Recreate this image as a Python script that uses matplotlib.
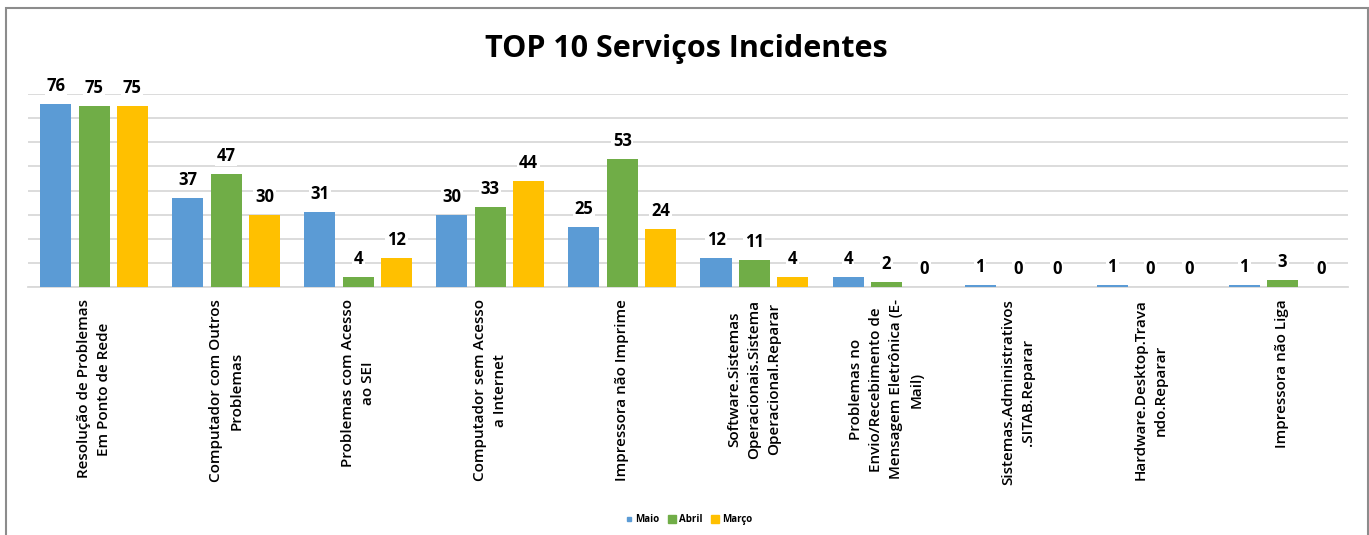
import matplotlib
matplotlib.use('Agg')
import matplotlib.pyplot as plt
import numpy as np
from matplotlib.lines import Line2D
from matplotlib.patches import Rectangle

plt.rcParams['font.family'] = ['Open Sans', 'DejaVu Sans']

categorias = ['Resolução de Problemas\nEm Ponto de Rede',
              'Computador com Outros\nProblemas',
              'Problemas com Acesso\nao SEI',
              'Computador sem Acesso\na Internet',
              'Impressora não Imprime',
              'Software.Sistemas\nOperacionais.Sistema\nOperacional.Reparar',
              'Problemas no\nEnvio/Recebimento de\nMensagem Eletrônica (E-\nMail)',
              'Sistemas.Administrativos\n.SITAB.Reparar',
              'Hardware.Desktop.Trava\nndo.Reparar',
              'Impressora não Liga']

maio = [76, 37, 31, 30, 25, 12, 4, 1, 1, 1]
abril = [75, 47, 4, 33, 53, 11, 2, 0, 0, 3]
marco = [75, 30, 12, 44, 24, 4, 0, 0, 0, 0]

series = [('Maio', maio, '#5B9BD5'),
          ('Abril', abril, '#70AD47'),
          ('Março', marco, '#FFC000')]

fig = plt.figure(figsize=(13.69, 5.35), dpi=100)
ax = fig.add_axes([0.0205, 0.4636, 0.9645, 0.3604])

x = np.arange(len(categorias))
step = 0.29
width = 0.235

for i, (nome, vals, cor) in enumerate(series):
    pos = x + (i - 1) * step
    ax.bar(pos, vals, width, color=cor, zorder=3)
    for p, v in zip(pos, vals):
        ax.annotate(str(v), xy=(p, v), xytext=(0, 6.5), textcoords='offset points',
                    ha='center', va='bottom', fontsize=12, fontweight='bold',
                    bbox=dict(boxstyle='square,pad=0.1', fc='white', ec='none'),
                    zorder=4)

ax.set_xlim(-0.5, len(categorias) - 0.5)
ax.set_ylim(0, 80)
ax.set_yticks(np.arange(0, 81, 10))
ax.set_yticklabels([])
ax.tick_params(axis='y', length=0)
ax.tick_params(axis='x', length=0, pad=9)
ax.grid(axis='y', color='#D9D9D9', linewidth=1.3, zorder=0)
for s in ['top', 'right', 'left']:
    ax.spines[s].set_visible(False)
ax.spines['bottom'].set_color('#D9D9D9')
ax.spines['bottom'].set_linewidth(1.3)

ax.set_xticks(x)
ax.set_xticklabels(categorias, rotation=90, fontsize=11, fontweight='semibold',
                   linespacing=1.55)

fig.text(0.501, 0.908, 'TOP 10 Serviços Incidentes', ha='center', va='center',
         fontsize=22, fontweight='bold')

handles = [Line2D([], [], marker='s', color='#5B9BD5', linestyle='none', markersize=2.5),
           Line2D([], [], marker='s', color='#70AD47', linestyle='none', markersize=6),
           Line2D([], [], marker='s', color='#FFC000', linestyle='none', markersize=6)]
fig.legend(handles, ['Maio', 'Abril', 'Março'], loc='center', bbox_to_anchor=(0.503, 0.029),
           ncol=3, frameon=False, prop={'size': 7, 'weight': 'bold'},
           handlelength=0.7, handletextpad=0.3, columnspacing=1.0)

fig.add_artist(Rectangle((0.0045, -0.1), 0.9945, 1.085, transform=fig.transFigure,
                         fill=False, edgecolor='#8C8C8C', linewidth=1.5))

fig.savefig('out.png', dpi=100)
